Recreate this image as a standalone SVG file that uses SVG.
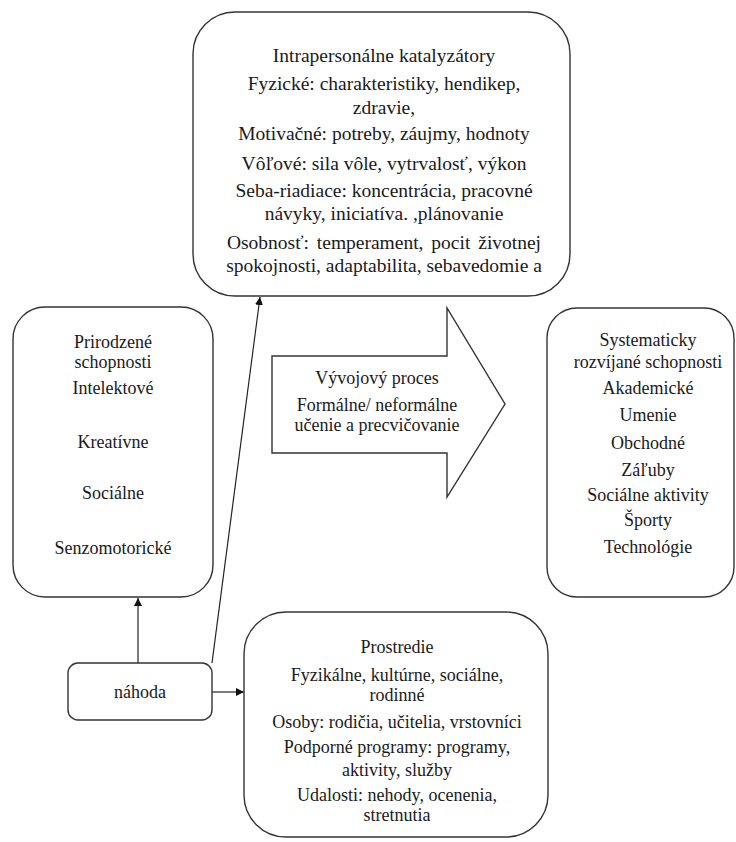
<svg xmlns="http://www.w3.org/2000/svg" width="736" height="842" viewBox="0 0 736 842">
<defs>
<style>
.box{fill:#fff;stroke:#333;stroke-width:1.4}
text{font-family:'Liberation Serif','Times New Roman','DejaVu Serif',serif;font-size:18px;fill:#1a1a1a;text-anchor:middle}
#intrapersonal text{font-size:19.5px}
.c{stroke:#222;stroke-width:1.2;fill:none}
</style>
<marker id="ah" viewBox="0 0 10 10" refX="10" refY="5" markerWidth="8" markerHeight="8" markerUnits="userSpaceOnUse" orient="auto"><path d="M0,0 L10,5 L0,10 z" fill="#111"/></marker>
</defs>
<rect width="736" height="842" fill="#fff"/>
<g id="connectors">
<line class="c" x1="212" y1="663" x2="260" y2="297" marker-end="url(#ah)"/>
<line class="c" x1="138" y1="663" x2="138" y2="598" marker-end="url(#ah)"/>
<line class="c" x1="212" y1="692" x2="244" y2="692" marker-end="url(#ah)"/>
</g>
<g id="intrapersonal">
<rect class="box" x="193" y="12" width="377" height="284" rx="42"/>
<text x="384" y="62">Intrapersonálne katalyzátory</text>
<text x="384" y="90">Fyzické: charakteristiky, hendikep,</text>
<text x="384" y="114">zdravie,</text>
<text x="384" y="140">Motivačné: potreby, záujmy, hodnoty</text>
<text x="384" y="170">Vôľové: sila vôle, vytrvalosť, výkon</text>
<text x="384" y="197">Seba-riadiace: koncentrácia, pracovné</text>
<text x="384" y="220">návyky, iniciatíva. ,plánovanie</text>
<text x="384" y="249" word-spacing="3">Osobnosť: temperament, pocit životnej</text>
<text x="384" y="272">spokojnosti, adaptabilita, sebavedomie a</text>
</g>
<g id="natural">
<rect class="box" x="13" y="307" width="200" height="290" rx="32"/>
<text x="113" y="348">Prirodzené</text>
<text x="113" y="368">schopnosti</text>
<text x="113" y="394">Intelektové</text>
<text x="113" y="448">Kreatívne</text>
<text x="113" y="499">Sociálne</text>
<text x="113" y="554">Senzomotorické</text>
</g>
<g id="process">
<path class="box" d="M272,356 L447,356 L447,308 L505,404 L447,497 L447,453 L272,453 Z"/>
<text x="377" y="384">Vývojový proces</text>
<text x="377" y="411">Formálne/ neformálne</text>
<text x="377" y="431">učenie a precvičovanie</text>
</g>
<g id="developed">
<rect class="box" x="547" y="308" width="187" height="289" rx="30"/>
<text x="648" y="346">Systematicky</text>
<text x="648" y="368">rozvíjané schopnosti</text>
<text x="648" y="394">Akademické</text>
<text x="648" y="421">Umenie</text>
<text x="648" y="449">Obchodné</text>
<text x="648" y="476">Záľuby</text>
<text x="648" y="501">Sociálne aktivity</text>
<text x="648" y="526">Športy</text>
<text x="648" y="553">Technológie</text>
</g>
<g id="nahoda">
<rect class="box" x="68" y="663" width="144" height="57" rx="10"/>
<text x="140" y="698">náhoda</text>
</g>
<g id="prostredie">
<rect class="box" x="244" y="612" width="304" height="225" rx="42"/>
<text x="397" y="653">Prostredie</text>
<text x="397" y="681">Fyzikálne, kultúrne, sociálne,</text>
<text x="397" y="701">rodinné</text>
<text x="397" y="728">Osoby: rodičia, učitelia, vrstovníci</text>
<text x="397" y="753">Podporné programy: programy,</text>
<text x="397" y="776">aktivity, služby</text>
<text x="397" y="801">Udalosti: nehody, ocenenia,</text>
<text x="397" y="821">stretnutia</text>
</g>
</svg>
